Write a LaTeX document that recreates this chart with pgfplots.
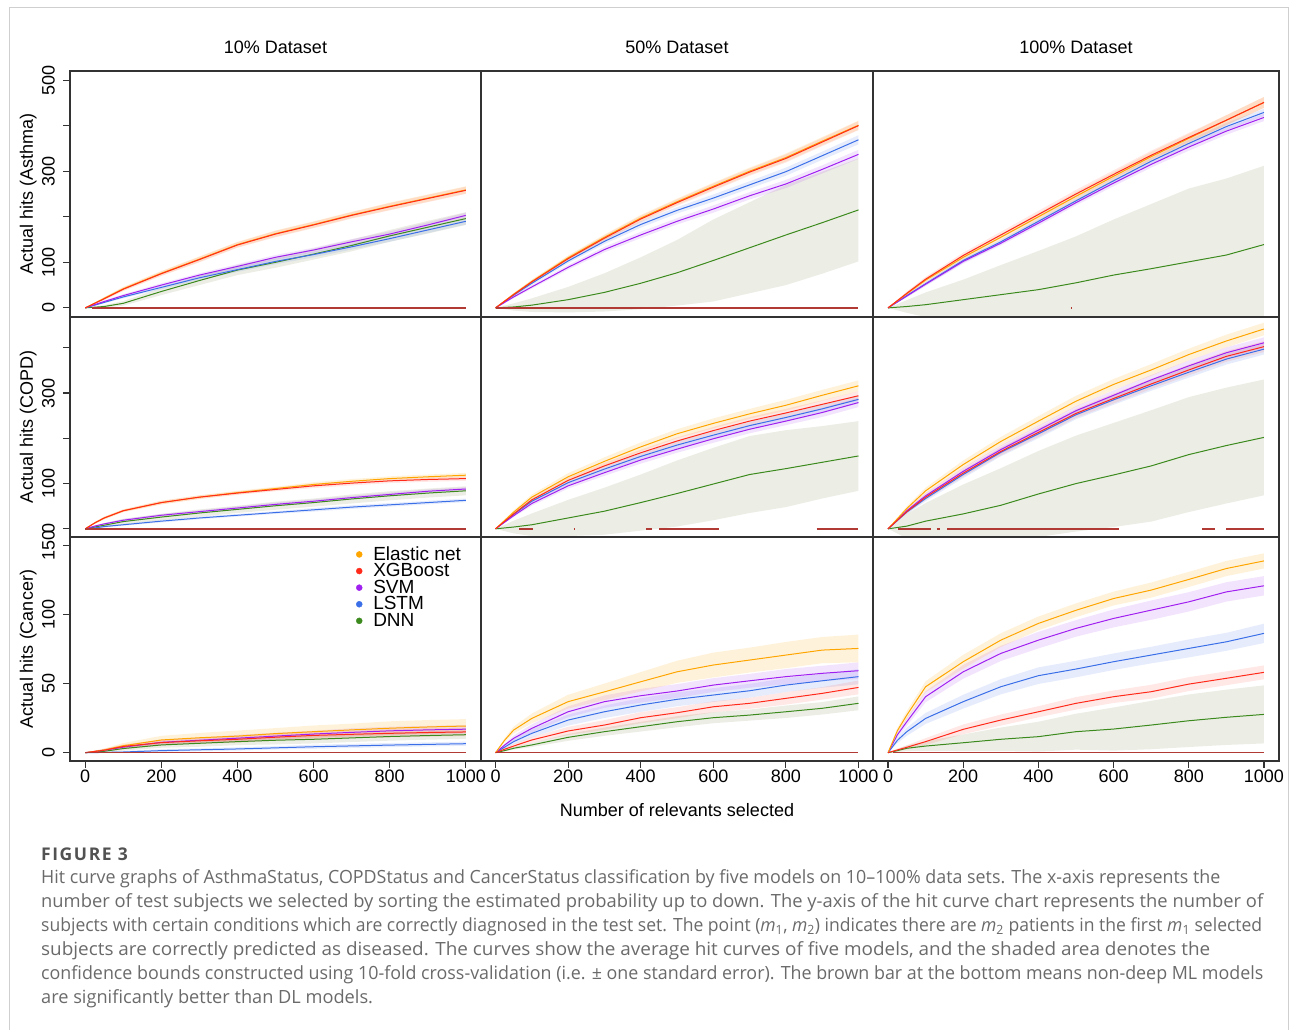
\documentclass[border=0pt]{standalone}
\usepackage{graphicx}
\usepackage{pgfplots}
\pgfplotsset{compat=1.18}
\usepackage{pgfplotstable}
\usepgfplotslibrary{fillbetween}
\usepackage{fontspec}
\setmainfont{Liberation Sans}
\newfontfamily\capfont{Open Sans}
\newfontfamily\capfontb{Open Sans}[LetterSpace=9]

\definecolor{cE}{HTML}{FFA500}
\definecolor{cX}{HTML}{FF2A1A}
\definecolor{cS}{HTML}{A020F0}
\definecolor{cL}{HTML}{3B6FE8}
\definecolor{cD}{HTML}{3C8A1E}
\definecolor{dband}{HTML}{ECEEE5}
\definecolor{sigc}{HTML}{B23A35}
\definecolor{framec}{HTML}{333333}
\definecolor{capgray}{HTML}{6A6A6A}
\definecolor{outerc}{HTML}{CFCFCF}

% columns: x E eE X eX S eS L eL D eD
\pgfplotstableread{
x E eE X eX S eS L eL D eD
0 0 0 0 0 0 0 0 0 0 0
50 21 3 20 3 14 2 12 2 3 3
100 42 4 41 4 27 3 24 3 10 5
200 76 5 75 5 50 4 45 4 36 8
300 107 6 106 6 72 4 66 5 60 10
400 139 6 138 6 91 5 84 5 83 11
500 163 7 162 7 111 5 102 6 100 12
600 183 7 182 7 127 5 117 6 118 12
700 204 7 203 7 145 6 134 6 137 13
800 223 8 222 8 162 6 152 7 158 13
900 241 8 240 8 182 6 171 7 177 14
1000 259 8 258 8 203 6 190 7 196 14
}\tAa
\pgfplotstableread{
x E eE X eX S eS L eL D eD
0 0 0 0 0 0 0 0 0 0 0
50 30 3 29 3 24 3 28 3 2 8
100 58 4 57 4 46 4 54 4 6 15
200 110 5 108 5 89 5 103 5 18 28
300 155 6 153 6 128 6 146 6 34 42
400 197 7 195 7 160 7 183 7 54 57
500 233 7 231 7 190 7 214 7 77 72
600 267 8 265 8 217 8 241 8 104 90
700 300 8 298 8 246 8 270 8 132 100
800 330 9 328 9 272 9 299 9 160 110
900 366 9 364 9 304 9 334 9 187 112
1000 401 10 400 10 337 10 369 10 215 113
}\tAb
\pgfplotstableread{
x E eE X eX S eS L eL D eD
0 0 0 0 0 0 0 0 0 0 0
50 31 4 32 4 26 3 27 3 3 14
100 61 5 63 5 52 4 53 4 7 27
200 111 6 115 6 102 5 104 5 18 44
300 155 7 160 7 142 5 145 5 29 65
400 200 8 205 8 186 6 190 6 40 85
500 245 9 250 9 231 6 235 6 55 102
600 289 9 293 9 274 7 279 7 72 122
700 332 10 335 10 315 7 322 7 86 142
800 372 10 374 10 353 8 361 8 101 161
900 412 11 412 11 388 8 398 8 116 168
1000 451 12 451 12 418 8 429 8 139 173
}\tAc
\pgfplotstableread{
x E eE X eX S eS L eL D eD
0 0 0 0 0 0 0 0 0 0 0
25 13 2 13 2 6 2 2 1 4 3
50 24 3 24 3 11 2 5 2 8 4
100 40 3 40 3 19 3 9 2 16 6
200 58 4 58 4 30 3 17 3 26 7
300 70 4 70 4 38 3 24 3 35 8
400 80 4 79 4 46 4 30 3 43 8
500 89 4 87 4 54 4 36 3 51 9
600 98 5 95 5 61 4 42 4 58 9
700 105 5 101 5 69 4 48 4 66 10
800 111 5 106 5 76 4 53 4 73 10
900 115 5 109 5 83 4 58 4 79 10
1000 118.5 5 111 5 88 4 63 4 84 10
}\tBa
\pgfplotstableread{
x E eE X eX S eS L eL D eD
0 0 0 0 0 0 0 0 0 0 0
50 37 4 33 3 29 3 32 3 4 14
100 70 6 64 5 56 5 61 5 9 25
200 115 8 107 6 95 6 102 6 24 40
300 149 9 139 7 124 7 132 7 39 52
400 181 10 168 7 152 8 160 7 58 62
500 210 10 194 8 176 8 185 8 78 73
600 233 11 217 8 199 9 207 8 99 80
700 254 11 238 9 220 9 228 8 120 85
800 273 12 256 9 238 9 246 9 133 85
900 295 12 275 9 257 10 265 9 147 80
1000 316 12 294 10 279 10 286 9 161 77
}\tBb
\pgfplotstableread{
x E eE X eX S eS L eL D eD
0 0 0 0 0 0 0 0 0 0 0
50 45 5 38 4 40 4 37 4 6 27
100 84 7 70 6 73 6 67 6 17 40
200 142 9 123 8 127 8 120 8 33 65
300 193 10 171 9 175 9 169 9 52 82
400 238 11 213 10 218 10 210 10 77 95
500 282 12 255 10 261 10 252 10 100 106
600 319 12 288 11 295 11 285 11 119 115
700 351 13 320 11 329 11 316 11 139 123
800 385 13 351 12 360 12 346 12 164 127
900 415 14 381 12 389 12 375 12 184 128
1000 441.5 14 402.5 12 411 12 397 12 202 128
}\tBc
\pgfplotstableread{
x E eE X eX S eS L eL D eD
0 0 0 0 0 0 0 0 0 0 0
50 2 1 1.8 1 1.8 1 0.2 0.5 1 1
100 5 2 4.5 1.5 4 1.5 0.5 0.8 3 1.5
200 9.2 3 7.3 2 7.5 2 1.5 1 5.6 2
300 10.8 3.5 8.6 2 9 2 2.1 1 6.8 2.5
400 12 4 9.7 2.5 10.5 2.5 2.7 1.2 8 2.5
500 13.8 4 11.2 2.5 12 2.5 3.5 1.2 9 3
600 15.2 4.5 12.5 2.5 13.5 2.5 4.3 1.5 9.7 3
700 16.5 4.5 13.3 2.5 14.7 3 4.9 1.5 10.7 3
800 17.7 5 14 3 15.8 3 5.5 1.5 11.7 3
900 18.6 5 14.6 3 16.5 3 6 1.5 12.4 3
1000 19.3 5 15 3 17 3 6.5 1.5 13 3
}\tCa
\pgfplotstableread{
x E eE X eX S eS L eL D eD
0 0 0 0 0 0 0 0 0 0 0
25 9 1.5 2.5 1 5.5 1 4 1 1.5 0.5
50 16.4 2.5 4.8 1.5 10.4 2 8 2 3.2 1
100 24.8 3.5 9.2 2 17.6 3 14 3 5.6 1.5
200 36.9 5 15.7 3 29.6 4 23.6 4 11.1 2.5
300 44 6 20 3.5 36.9 4.5 29.6 4.5 15.2 3
400 51.3 7 25.3 4 41.2 5 34.5 5 18.8 3.5
500 58.5 8 28.9 4 44.6 5 38.6 5 22.4 4
600 63.4 9 33.2 4 48.9 5 41.7 5 25.3 4
700 67 9 35.7 4 52 5 44.8 5 27.2 4
800 70.6 9.5 39.3 4.5 55 5.5 48.9 5 29.6 4.5
900 74.2 9.5 42.9 4.5 57.4 5.5 52 5 32.1 4.5
1000 75.4 10 47.2 5 59.3 6 55 5.5 35.7 5
}\tCb
\pgfplotstableread{
x E eE X eX S eS L eL D eD
0 0 0 0 0 0 0 0 0 0 0
25 16 2 2 1 13 2 9 2 1.5 1
50 27.2 3 3.9 1.5 22.4 3 15.2 3 3.2 2
100 47.7 4 8 2.5 40.5 4 24.8 4 4.8 3.5
200 65.8 5 16.9 3.5 58.5 5 36.9 5 7.2 6
300 81.4 5 23.6 4 71.8 5.5 47.7 5.5 9.7 8.5
400 93.5 5 29.6 4 81.4 6 55.7 6 11.6 10.8
500 103 5 35.7 4.5 89.9 6 60.5 6 15.2 13
600 111.5 5 40.5 4.5 97.1 6.5 65.8 6 17.1 15.6
700 117.6 5.5 44.1 5 103.1 7 70.6 6 20 17.5
800 125.3 5.5 49.6 5 109.1 7 75.4 6.5 23.1 19
900 133.2 5.5 53.8 5 116.3 7 80.2 6.5 25.6 20
1000 138.7 5.5 58.1 5 120.7 7 86.3 7 27.7 21
}\tCc

\newcommand{\band}[4]{%
  \addplot[name path=up#2, draw=none, forget plot] table[x=x, y expr=\thisrow{#2}+\thisrow{#3}] {#1};
  \addplot[name path=lo#2, draw=none, forget plot] table[x=x, y expr=\thisrow{#2}-\thisrow{#3}] {#1};
  \addplot[#4, draw=none, forget plot] fill between[of=up#2 and lo#2];
}
\newcommand{\panel}[1]{%
  \band{#1}{D}{eD}{fill=dband}
  \band{#1}{L}{eL}{fill=cL, fill opacity=0.13}
  \band{#1}{S}{eS}{fill=cS, fill opacity=0.12}
  \band{#1}{E}{eE}{fill=cE, fill opacity=0.14}
  \band{#1}{X}{eX}{fill=cX, fill opacity=0.11}
  \addplot[cD, line width=1pt, forget plot] table[x=x, y=D] {#1};
  \addplot[cL, line width=1pt, forget plot] table[x=x, y=L] {#1};
  \addplot[cS, line width=1pt, forget plot] table[x=x, y=S] {#1};
  \addplot[cE, line width=1pt, forget plot] table[x=x, y=E] {#1};
  \addplot[cX, line width=1pt, forget plot] table[x=x, y=X] {#1};
}
\newcommand{\sig}[2]{\addplot[sigc, line width=1.4pt, forget plot] coordinates {(#1,0) (#2,0)};}
\newcommand{\capline}[2]{\resizebox{#1}{\height}{#2}}

\pgfplotsset{
  panel/.style={scale only axis, xmin=-40, xmax=1040, axis on top,
    axis line style={line width=1.2pt, draw=framec},
    xtick=\empty, ytick=\empty,
    tick style={line width=1.1pt, draw=framec},
    tick align=outside, major tick length=7pt,
    ticklabel style={font=\fontsize{18}{18}\selectfont},
    title style={font=\fontsize{18}{18}\selectfont, at={(0.5,1)}, anchor=base, yshift=11pt},
    ylabel style={font=\fontsize{18}{18}\selectfont, at={(axis description cs:-0.081,0.5)}, anchor=south, inner sep=0pt},
  },
  c1/.style={width=411pt}, c2/.style={width=392pt}, c3/.style={width=406pt},
  r1/.style={height=246pt, ymin=-20, ymax=520},
  r2/.style={height=220pt, ymin=-18, ymax=468},
  r3/.style={height=224pt, ymin=-6, ymax=156},
  yt/.style={ytick pos=left, yticklabel style={rotate=90, anchor=south, inner sep=0pt}, yticklabel shift=8pt},
  xt/.style={xtick pos=bottom, xtick={0,200,400,600,800,1000}, xticklabels={0,200,400,600,800,1000},
    xticklabel style={anchor=north, inner sep=0pt}, xticklabel shift=2pt},
  dotleg/.style={only marks, mark=*, mark size=3pt,
    legend image code/.code={\draw[##1] plot coordinates {(3pt,0pt)};}},
}

\begin{document}
\begin{tikzpicture}
\draw[outerc, line width=1pt] (9.5pt,0pt) -- (9.5pt,1022.5pt) -- (1288.5pt,1022.5pt) -- (1288.5pt,0pt);

% Row 1: Asthma
\begin{axis}[panel, c1, r1, yt, at={(70pt,959pt)}, anchor=north west,
  ytick={0,100,200,300,400,500}, yticklabels={0,100,,300,,500},
  title={10\% Dataset}, ylabel={Actual hits (Asthma)}]
\panel{\tAa}
\sig{18}{1000}
\end{axis}
\begin{axis}[panel, c2, r1, at={(481pt,959pt)}, anchor=north west, title={50\% Dataset}]
\panel{\tAb}
\sig{0}{1000}
\end{axis}
\begin{axis}[panel, c3, r1, at={(873pt,959pt)}, anchor=north west, title={100\% Dataset}]
\panel{\tAc}
\sig{486}{490}
\end{axis}

% Row 2: COPD
\begin{axis}[panel, c1, r2, yt, at={(70pt,713pt)}, anchor=north west,
  ytick={0,100,200,300,400}, yticklabels={0,100,,300,},
  ylabel={Actual hits (COPD)}]
\panel{\tBa}
\sig{0}{1000}
\end{axis}
\begin{axis}[panel, c2, r2, at={(481pt,713pt)}, anchor=north west]
\panel{\tBb}
\sig{65}{104}\sig{216}{220}\sig{414}{432}\sig{450}{615}\sig{885}{1000}
\end{axis}
\begin{axis}[panel, c3, r2, at={(873pt,713pt)}, anchor=north west]
\panel{\tBc}
\sig{27}{115}\sig{129}{139}\sig{157}{614}\sig{836}{869}\sig{900}{1000}
\end{axis}

% Row 3: Cancer
\begin{axis}[panel, c1, r3, yt, xt, at={(70pt,493pt)}, anchor=north west,
  ytick={0,50,100,150}, yticklabels={0,50,100,150},
  ylabel={Actual hits (Cancer)},
  legend style={at={(axis description cs:0.696,0.96)}, anchor=north west, draw=none, fill=none,
    font=\fontsize{19}{19}\selectfont, row sep=0pt, column sep=11pt, inner sep=0pt,
    nodes={inner sep=0pt, text height=13.9pt, text depth=2.7pt}},
  legend cell align=left]
\panel{\tCa}
\sig{0}{1000}
\addlegendimage{dotleg, cE}
\addlegendentry{Elastic net}
\addlegendimage{dotleg, cX}
\addlegendentry{XGBoost}
\addlegendimage{dotleg, cS}
\addlegendentry{SVM}
\addlegendimage{dotleg, cL}
\addlegendentry{LSTM}
\addlegendimage{dotleg, cD}
\addlegendentry{DNN}
\end{axis}
\begin{axis}[panel, c2, r3, xt, at={(481pt,493pt)}, anchor=north west,
  xlabel={Number of relevants selected},
  xlabel style={font=\fontsize{18}{18}\selectfont, at={(axis description cs:0.5,0)}, anchor=base, yshift=-55.7pt}]
\panel{\tCb}
\sig{0}{1000}
\end{axis}
\begin{axis}[panel, c3, r3, xt, at={(873pt,493pt)}, anchor=north west]
\panel{\tCc}
\sig{13}{1000}
\end{axis}

% Caption
\begin{scope}[every node/.style={anchor=base west, inner sep=0pt, text=capgray, font=\capfont\fontsize{18.2}{18.2}\selectfont}]
\node[font=\capfontb\bfseries\fontsize{17.5}{17.5}\selectfont, text=black!68] at (41pt,169.3pt) {FIGURE 3};
\node at (41pt,146.3pt) {\capline{1179pt}{Hit curve graphs of AsthmaStatus, COPDStatus and CancerStatus classification by five models on 10–100\% data sets. The x-axis represents the}};
\node at (41pt,122.3pt) {\capline{1222pt}{number of test subjects we selected by sorting the estimated probability up to down. The y-axis of the hit curve chart represents the number of}};
\node at (41pt,98.3pt) {\capline{1221pt}{subjects with certain conditions which are correctly diagnosed in the test set. The point ({\itshape m}\textsubscript{1}, {\itshape m}\textsubscript{2}) indicates there are {\itshape m}\textsubscript{2} patients in the first {\itshape m}\textsubscript{1} selected}};
\node at (41pt,74.3pt) {\capline{1169pt}{subjects are correctly predicted as diseased. The curves show the average hit curves of five models, and the shaded area denotes the}};
\node at (41pt,50.3pt) {\capline{1222pt}{confidence bounds constructed using 10-fold cross-validation (i.e. ± one standard error). The brown bar at the bottom means non-deep ML models}};
\node at (41pt,26.3pt) {are significantly better than DL models.};
\end{scope}
\pgfresetboundingbox
\path[use as bounding box] (0pt,0pt) rectangle (1296pt,1030pt);
\end{tikzpicture}
\end{document}
